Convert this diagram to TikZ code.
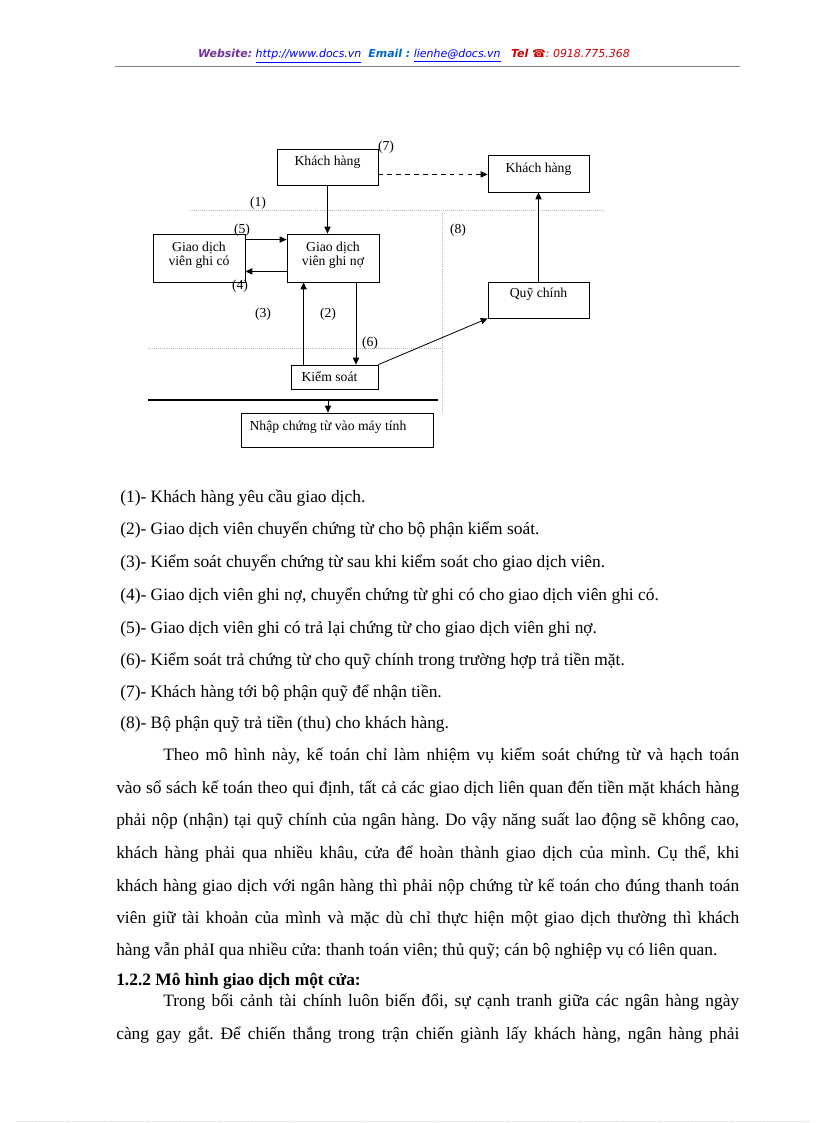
\documentclass[tikz,border=0pt]{standalone}
\usepackage{fontspec}
\setmainfont{Liberation Serif}
\newfontfamily\hdrfont{DejaVu Sans}
\usetikzlibrary{arrows.meta,calc}
\definecolor{webpurple}{RGB}{112,48,160}
\definecolor{linkblue}{RGB}{0,0,255}
\definecolor{mailblue}{RGB}{0,102,204}
\definecolor{telred}{RGB}{204,0,0}
\def\px{0.72951pt}
\frenchspacing
\begin{document}
\begin{tikzpicture}[x=0.72951pt,y=-0.72951pt,
 box/.style={draw, line width=0.6pt, inner sep=0pt},
 boxtext/.style={font=\fontsize{10}{10}\selectfont, inner sep=0pt, align=center},
 arr/.style={-{Triangle[length=5pt,width=4.5pt]}, line width=0.6pt},
 guide/.style={densely dotted, gray!55, line width=0.5pt},
 num/.style={font=\fontsize{10}{12}\selectfont, inner sep=0pt},
 body/.style={font=\fontsize{12.7}{15}\selectfont, inner sep=0pt, anchor=base west},
]
\useasboundingbox (0,0) rectangle (816,1123);

% header
\node[font=\hdrfont\fontsize{8}{9}\selectfont, inner sep=0pt] (hdr) at (414,56)
 {\textcolor{webpurple}{\bfseries\itshape Website:} \textcolor{linkblue}{\itshape\underline{http://www.docs.vn}}\ \ \textcolor{mailblue}{\bfseries\itshape Email :} \textcolor{linkblue}{\itshape\underline{lienhe@docs.vn}}\ \ \ \textcolor{telred}{\bfseries\itshape Tel ☎}\textcolor{telred}{\itshape: 0918.775.368}};
\coordinate (hl) at (115,66);
\coordinate (hr) at (740,66);
\draw[gray, line width=0.7pt] (hl) -- (hr);

% guides
\draw[guide] (190,210) -- (604,210);
\draw[guide] (148,348) -- (442,348);
\draw[guide] (442,213) -- (442,413);

% boxes
\node[box, minimum width=101*\px, minimum height=36*\px, label={[boxtext, yshift=5*\px]center:Khách hàng}] (kh) at (327.5,167) {};
\node[box, minimum width=101*\px, minimum height=37*\px, label={[boxtext, yshift=4.5*\px]center:Khách hàng}] (kh2) at (538.5,173.5) {};
\node[box, minimum width=92*\px, minimum height=48*\px, label={[boxtext, yshift=3*\px]center:Giao dịch\\viên ghi có}] (gc) at (199,258) {};
\node[box, minimum width=92*\px, minimum height=48*\px, label={[boxtext, yshift=3*\px]center:Giao dịch\\viên ghi nợ}] (gn) at (333,258) {};
\node[box, minimum width=101*\px, minimum height=36*\px, label={[boxtext, yshift=6*\px]center:Quỹ chính}] (qc) at (538.5,300) {};
\node[box, minimum width=87*\px, minimum height=24*\px, label={[boxtext, xshift=-5*\px]center:Kiểm soát}] (ks) at (334.5,377) {};
\node[box, minimum width=192*\px, minimum height=34*\px, label={[boxtext, xshift=-9*\px, yshift=3*\px]center:Nhập chứng từ vào máy tính}] (np) at (337,430) {};

% connectors
\draw[arr] (kh.south) -- (kh.south |- gn.north);
\draw[arr] ($(gc.north east)+(0,6)$) -- ($(gn.north west)+(0,6)$);
\draw[arr] ($(gn.south west)+(0,-11)$) -- ($(gc.south east)+(0,-11)$);
\coordinate (p3) at ($(ks.north west)+(13,0)$);
\draw[arr] (p3) -- (p3 |- gn.south);
\coordinate (p2) at ($(gn.south)+(23,0)$);
\draw[arr] (p2) -- (p2 |- ks.north);
\draw[arr] (ks.north east) -- (qc.south west);
\draw[arr] (qc.north) -- (kh2.south);
\coordinate (p7) at ($(kh.south east)+(0,-11)$);
\draw[arr, dash pattern=on 3.5pt off 3pt] (p7) -- (p7 -| kh2.west);
\coordinate (barl) at (148,400);
\coordinate (barr) at (438,400);
\draw[line width=1.5pt] (barl) -- (barr);
\coordinate (bar) at (328,400);
\draw[arr] (bar) -- (bar |- np.north);

% step labels
\node[num] (n7) at (386,147) {(7)};
\node[num] (n1) at (258,203) {(1)};
\node[num] (n5) at (242,230) {(5)};
\node[num] (n4) at (240,286) {(4)};
\node[num] (n8) at (458,230) {(8)};
\node[num] (n3) at (263,314) {(3)};
\node[num] (n2) at (328,314) {(2)};
\node[num] (n6) at (370,343) {(6)};

% legend
\node[body] (l1) at (120,502) {(1)- Khách hàng yêu cầu giao dịch.};
\node[body] (l2) at (120,534) {(2)- Giao dịch viên chuyển chứng từ cho bộ phận kiểm soát.};
\node[body] (l3) at (120,567) {(3)- Kiểm soát chuyển chứng từ sau khi kiểm soát cho giao dịch viên.};
\node[body] (l4) at (120,600) {(4)- Giao dịch viên ghi nợ, chuyển chứng từ ghi có cho giao dịch viên ghi có.};
\node[body] (l5) at (120,633) {(5)- Giao dịch viên ghi có trả lại chứng từ cho giao dịch viên ghi nợ.};
\node[body] (l6) at (120,665) {(6)- Kiểm soát trả chứng từ cho quỹ chính trong trường hợp trả tiền mặt.};
\node[body] (l7) at (120,697) {(7)- Khách hàng tới bộ phận quỹ để nhận tiền.};
\node[body] (l8) at (120,728) {(8)- Bộ phận quỹ trả tiền (thu) cho khách hàng.};

% paragraph
\node[body] (t1) at (163,760) {\makebox[420.2pt][s]{Theo mô hình này, kế toán chỉ làm nhiệm vụ kiểm soát chứng từ và hạch toán}};
\node[body] (t2) at (116,793) {\makebox[454.5pt][s]{vào sổ sách kế toán theo qui định, tất cả các giao dịch liên quan đến tiền mặt khách hàng}};
\node[body] (t3) at (116,825) {\makebox[454.5pt][s]{phải nộp (nhận) tại quỹ chính của ngân hàng. Do vậy năng suất lao động sẽ không cao,}};
\node[body] (t4) at (116,858) {\makebox[454.5pt][s]{khách hàng phải qua nhiều khâu, cửa để hoàn thành giao dịch của mình. Cụ thể, khi}};
\node[body] (t5) at (116,891) {\makebox[454.5pt][s]{khách hàng giao dịch với ngân hàng thì phải nộp chứng từ kế toán cho đúng thanh toán}};
\node[body] (t6) at (116,923) {\makebox[454.5pt][s]{viên giữ tài khoản của mình và mặc dù chỉ thực hiện một giao dịch thường thì khách}};
\node[body] (t7) at (116,955) {hàng vẫn phảI qua nhiều cửa: thanh toán viên; thủ quỹ; cán bộ nghiệp vụ có liên quan.};
\node[body, font=\fontsize{12.7}{15}\selectfont\bfseries] (h1) at (116,985) {1.2.2 Mô hình giao dịch một cửa:};
\node[body] (t8) at (163,1006) {\makebox[420.2pt][s]{Trong bối cảnh tài chính luôn biến đổi, sự cạnh tranh giữa các ngân hàng ngày}};
\node[body] (t9) at (116,1039) {\makebox[454.5pt][s]{càng gay gắt. Để chiến thắng trong trận chiến giành lấy khách hàng, ngân hàng phải}};

% page foot
\coordinate (fl) at (16,1121);
\coordinate (fr) at (808,1121);
\draw[densely dotted, gray!35, line width=0.5pt] (fl) -- (fr);
\end{tikzpicture}
\end{document}
